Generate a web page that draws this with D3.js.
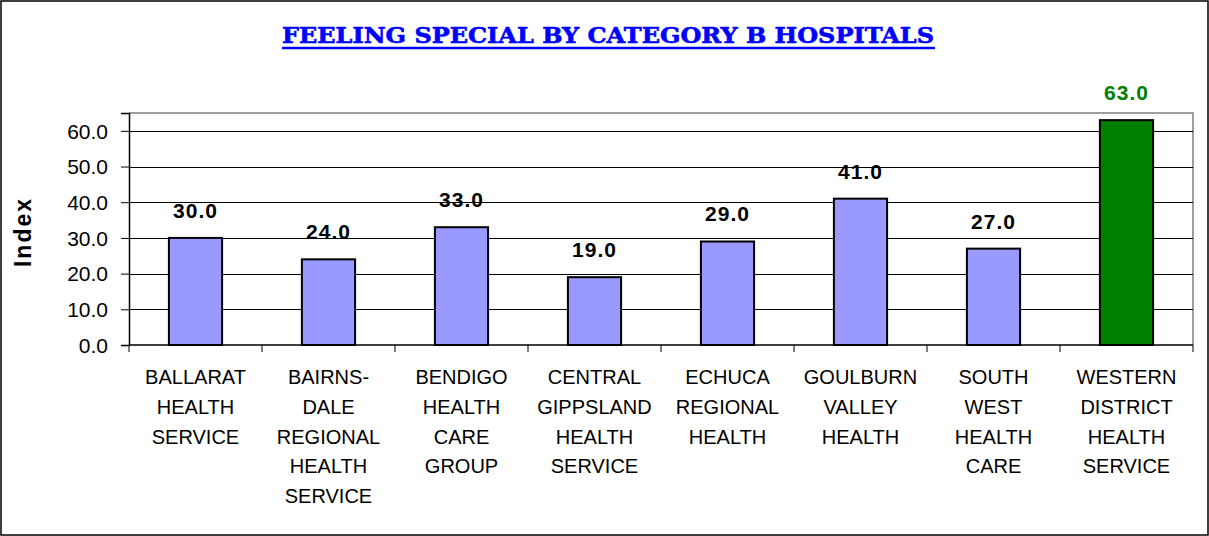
<!DOCTYPE html>
<html lang="en">
<head>
    <meta charset="UTF-8">
    <title>Feeling Special by Category B Hospitals</title>
    <script src="https://cdnjs.cloudflare.com/ajax/libs/d3/7.8.5/d3.min.js"></script>
    <style>
        body { margin: 0; background: #fff; }
        svg { display: block; }
    </style>
</head>
<body>
    <div id="chart"></div>
    <script>
        // hospital names, one array entry per wrapped line
        let hospitals = [
            ['BALLARAT', 'HEALTH', 'SERVICE'],
            ['BAIRNS-', 'DALE', 'REGIONAL', 'HEALTH', 'SERVICE'],
            ['BENDIGO', 'HEALTH', 'CARE', 'GROUP'],
            ['CENTRAL', 'GIPPSLAND', 'HEALTH', 'SERVICE'],
            ['ECHUCA', 'REGIONAL', 'HEALTH'],
            ['GOULBURN', 'VALLEY', 'HEALTH'],
            ['SOUTH', 'WEST', 'HEALTH', 'CARE'],
            ['WESTERN', 'DISTRICT', 'HEALTH', 'SERVICE']
        ];
        let scores = [30, 24, 33, 19, 29, 41, 27, 63];
        let highlighted = [false, false, false, false, false, false, false, true];
        let yTicks = [0, 10, 20, 30, 40, 50, 60];

        let width = 1209;
        let height = 536;
        let margin = { top: 113, right: 16, bottom: 191, left: 129 };

        let svg = d3.select('#chart')
            .append('svg')
            .attr('width', width)
            .attr('height', height);

        // outer frame
        svg.append('rect')
            .attr('x', 1).attr('y', 1)
            .attr('width', width - 2).attr('height', height - 2)
            .attr('fill', '#fff')
            .attr('stroke', '#000')
            .attr('stroke-width', 1.5);

        // title
        svg.append('text')
            .attr('x', 608)
            .attr('y', 43)
            .attr('text-anchor', 'middle')
            .attr('font-family', 'DejaVu Serif, serif')
            .attr('font-weight', 'bold')
            .attr('font-size', 22)
            .attr('fill', '#0000ff')
            .attr('stroke', '#0000ff')
            .attr('stroke-width', 0.6)
            .attr('textLength', 652)
            .attr('lengthAdjust', 'spacingAndGlyphs')
            .text('FEELING SPECIAL BY CATEGORY B HOSPITALS');
        svg.append('line')
            .attr('x1', 282).attr('x2', 935)
            .attr('y1', 48).attr('y2', 48)
            .attr('stroke', '#0000ff')
            .attr('stroke-width', 2.5);

        let innerW = width - margin.left - margin.right;
        let innerH = height - margin.top - margin.bottom;

        let x = d3.scaleBand()
            .domain(d3.range(hospitals.length))
            .range([margin.left, margin.left + innerW])
            .paddingInner(0.6)
            .paddingOuter(0.3);

        let y = d3.scaleLinear()
            .domain([0, 65])
            .range([margin.top + innerH, margin.top]);

        // plot frame (top & right in grey)
        svg.append('path')
            .attr('d', `M${margin.left},${margin.top}H${margin.left + innerW}V${margin.top + innerH}`)
            .attr('fill', 'none')
            .attr('stroke', '#808080')
            .attr('stroke-width', 1.5);

        // gridlines
        svg.append('g')
            .selectAll('line')
            .data(yTicks.filter(d => d > 0))
            .join('line')
            .attr('x1', margin.left)
            .attr('x2', margin.left + innerW)
            .attr('y1', d => Math.round(y(d)) + 0.5)
            .attr('y2', d => Math.round(y(d)) + 0.5)
            .attr('stroke', '#000')
            .attr('stroke-width', 1);

        // y axis
        let yAxis = svg.append('g')
            .attr('transform', `translate(${margin.left},0)`)
            .call(d3.axisLeft(y).tickValues(yTicks).tickFormat(d3.format('.1f')).tickSize(8).tickPadding(13));
        yAxis.select('.domain').attr('stroke', '#000').attr('stroke-width', 1.5);
        yAxis.selectAll('.tick line').attr('stroke', '#000');
        yAxis.selectAll('.tick text')
            .attr('font-family', 'Liberation Sans, Arial, sans-serif')
            .attr('font-size', 21)
            .attr('dy', '0.35em')
            .attr('fill', '#000');

        // x axis line with ticks at category boundaries
        let x0 = y(0);
        svg.append('line')
            .attr('x1', margin.left).attr('x2', margin.left + innerW)
            .attr('y1', x0).attr('y2', x0)
            .attr('stroke', '#000').attr('stroke-width', 1.5);
        let step = x.step();
        svg.append('g')
            .selectAll('line')
            .data(d3.range(hospitals.length + 1))
            .join('line')
            .attr('x1', i => margin.left + i * step)
            .attr('x2', i => margin.left + i * step)
            .attr('y1', x0)
            .attr('y2', x0 + 7)
            .attr('stroke', '#000');

        // bars
        svg.append('g')
            .selectAll('rect')
            .data(scores)
            .join('rect')
            .attr('x', (d, i) => x(i))
            .attr('y', d => y(d))
            .attr('width', x.bandwidth())
            .attr('height', d => y(0) - y(d))
            .attr('fill', (d, i) => highlighted[i] ? '#008000' : '#9999ff')
            .attr('stroke', '#000')
            .attr('stroke-width', 2);

        // value labels
        svg.append('g')
            .selectAll('text')
            .data(scores)
            .join('text')
            .attr('x', (d, i) => x(i) + x.bandwidth() / 2)
            .attr('y', d => y(d) - 20)
            .attr('text-anchor', 'middle')
            .attr('font-family', 'Liberation Sans, Arial, sans-serif')
            .attr('font-weight', 'bold')
            .attr('font-size', 21)
            .attr('letter-spacing', 1)
            .attr('fill', (d, i) => highlighted[i] ? '#008000' : '#000')
            .text(d => d.toFixed(1));

        // category labels
        let cat = svg.append('g')
            .selectAll('text')
            .data(hospitals)
            .join('text')
            .attr('x', (d, i) => x(i) + x.bandwidth() / 2)
            .attr('y', 384)
            .attr('text-anchor', 'middle')
            .attr('font-family', 'Liberation Sans, Arial, sans-serif')
            .attr('font-size', 20)
            .attr('fill', '#000');
        cat.selectAll('tspan')
            .data(d => d)
            .join('tspan')
            .attr('x', function () { return d3.select(this.parentNode).attr('x'); })
            .attr('dy', (d, i) => i === 0 ? 0 : 29.8)
            .text(d => d);

        // y axis title
        svg.append('text')
            .attr('transform', 'translate(31,232) rotate(-90)')
            .attr('text-anchor', 'middle')
            .attr('font-family', 'Liberation Sans, Arial, sans-serif')
            .attr('font-weight', 'bold')
            .attr('font-size', 23)
            .attr('letter-spacing', 2)
            .text('Index');
    </script>
</body>
</html>
